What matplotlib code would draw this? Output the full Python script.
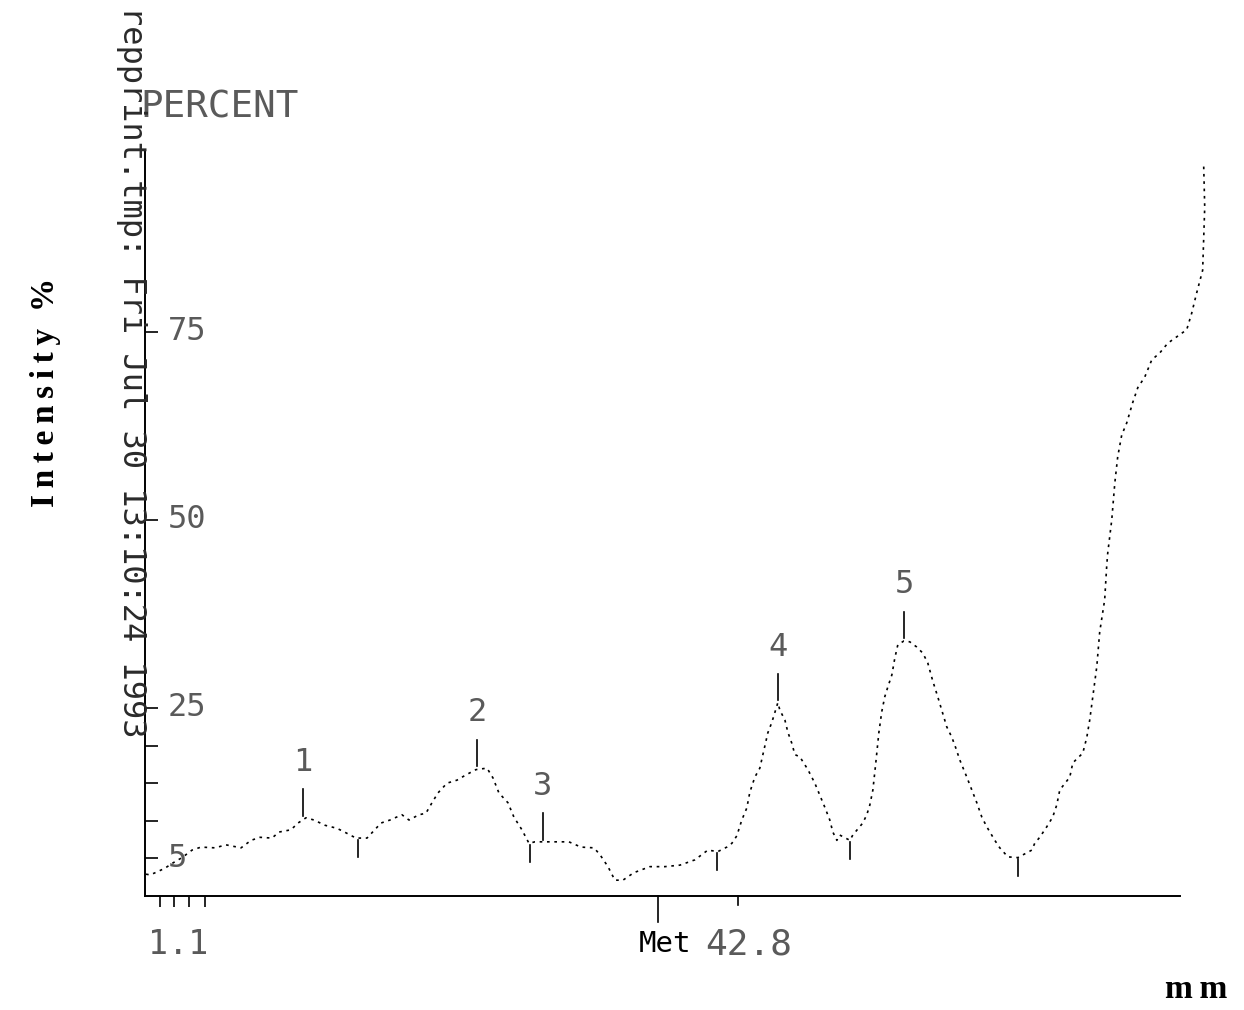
import numpy as np
import matplotlib.pyplot as plt

# densitometer scan, position in mm and intensity in percent
pos_mm = [0.07, 0.36, 0.87, 1.44, 2.02, 2.67, 3.39, 4.04, 5.05, 5.84, 6.93, 7.65, 8.30,
          9.16, 9.67, 10.53, 11.04, 11.62, 12.19, 12.99, 13.85, 14.50, 15.22, 16.02,
          17.03, 17.68, 18.54, 19.05, 19.77, 20.27, 20.71, 21.14, 21.79, 22.51, 23.16,
          23.88, 24.68, 25.11, 25.54, 26.19, 26.62, 27.20, 27.71, 28.14, 28.86, 29.80,
          30.59, 31.46, 32.40, 32.83, 33.41, 33.91, 34.49, 35.28, 36.44, 37.52, 38.60,
          39.68, 40.62, 41.34, 41.99, 42.35, 42.71, 43.07, 43.43, 43.65, 44.01, 44.37,
          44.59, 44.95, 45.24, 45.67, 45.82, 46.18, 46.39, 46.68, 46.90, 47.26, 47.84,
          48.34, 48.70, 49.06, 49.42, 49.64, 49.93, 50.14, 50.87, 51.08, 51.80, 52.09,
          52.31, 52.53, 52.74, 52.96, 53.17, 53.39, 53.61, 53.90, 54.11, 54.33, 54.76,
          55.19, 55.70, 56.13, 56.49, 56.85, 57.21, 57.50, 57.86, 58.23, 58.51, 58.80,
          59.31, 59.67, 60.03, 60.39, 60.75, 61.33, 61.69, 62.27, 62.99, 64.00, 64.21,
          64.57, 65.08, 65.51, 65.80, 66.02, 66.74, 66.96, 67.68, 67.97, 68.18, 68.40,
          68.69, 68.90, 69.26, 69.41, 69.48, 69.77, 69.99, 70.20, 70.49, 70.85, 71.28,
          71.65, 72.15, 72.66, 73.23, 73.81, 75.18, 75.54, 75.90, 76.33, 76.41, 76.48,
          76.40]
intensity = [2.9, 2.8, 3.2, 3.7, 4.4, 5.1, 6.1, 6.5, 6.4, 6.8, 6.4, 7.4, 7.8,
             7.7, 8.5, 8.8, 9.7, 10.4, 10.1, 9.4, 9.0, 8.4, 7.7, 7.7,
             9.7, 10.1, 10.8, 10.1, 10.8, 11.0, 12.4, 13.7, 15.0, 15.4, 16.1,
             16.8, 17.0, 15.7, 13.7, 12.4, 10.5, 8.8, 7.0, 7.2, 7.2, 7.2,
             7.2, 6.5, 6.4, 5.5, 3.9, 2.1, 2.1, 3.1, 3.9, 3.9, 4.1,
             4.8, 6.1, 5.9, 6.5, 7.0, 8.0, 10.1, 11.7, 13.8, 15.8, 17.0,
             18.8, 21.7, 23.1, 25.7, 24.7, 23.4, 21.8, 20.3, 18.8, 18.5, 16.8,
             15.0, 13.4, 11.8, 10.1, 8.5, 7.4, 8.1, 7.4, 8.1, 9.7, 10.8,
             12.1, 14.1, 17.7, 21.7, 24.5, 26.5, 27.8, 29.4, 31.6, 33.4, 33.9,
             33.8, 33.1, 32.3, 31.0, 28.6, 26.5, 24.7, 22.5, 21.1, 19.7, 18.1,
             15.8, 14.1, 12.4, 10.5, 9.2, 7.4, 6.4, 5.2, 5.1, 6.1, 7.0,
             7.8, 9.2, 10.5, 12.1, 14.1, 15.8, 17.7, 19.0, 21.1, 23.4, 26.5,
             30.5, 35.1, 39.4, 44.0, 45.6, 50.0, 54.9, 58.4, 61.3, 62.9, 65.6,
             67.6, 69.0, 71.3, 72.2, 73.5, 75.3, 77.5, 80.2, 83.2, 87.6, 91.6,
             97.5]

# integrated peaks
peak_labels = ["1", "2", "3", "4", "5"]
peak_mm = [11.4, 23.95, 28.7, 45.7, 54.8]
peak_int = [10.4, 17.0, 7.2, 25.7, 34.0]

# baseline drop marks
valley_mm = [15.4, 27.8, 41.3, 50.9, 63.0]
valley_int = [7.7, 7.0, 5.9, 7.4, 5.1]

y_major = [5, 25, 50, 75]
y_minor = [10, 15, 20]
x_ticks = [1.1, 2.1, 3.2, 4.3]
met_mm = 37.0
front_mm = 42.8

mono = "DejaVu Sans Mono"
serif = ["Liberation Serif", "DejaVu Serif"]
seg = "#5a5a5a"
thin = "\u2009"

fig = plt.figure(figsize=(12.44, 10.10), dpi=100)
ax = fig.add_axes([0.1166, 0.1129, 0.832, 0.7386])

ax.plot(pos_mm, intensity, color="black", lw=1.2, linestyle=(0, (1.6, 2.8)), clip_on=False)

# peak markers: short tick above each peak, number above it
for lab, px, py in zip(peak_labels, peak_mm, peak_int):
    ax.plot([px, px], [py + 0.3, py + 3.8], color="black", lw=1.2)
    ax.text(px, py + 7.4, lab, ha="center", va="center", fontsize=23,
            family=mono, color=seg)

for vx, vy in zip(valley_mm, valley_int):
    ax.plot([vx, vx], [vy - 0.2, vy - 2.5], color="black", lw=1.2)

ax.set_xlim(0, 74.7)
ax.set_ylim(0, 99.2)
for s in ["top", "right"]:
    ax.spines[s].set_visible(False)
for s in ["left", "bottom"]:
    ax.spines[s].set_linewidth(1.4)

ax.set_yticks(y_major + y_minor)
ax.set_yticklabels([])
ax.tick_params(axis="y", direction="in", length=9, width=1.2)
ax.set_xticks(x_ticks)
ax.set_xticklabels([])
ax.tick_params(axis="x", direction="out", length=8, width=1.2)

for v in y_major:
    ax.text(1.65, v, str(v), ha="left", va="center", fontsize=23,
            family=mono, color=seg)

# Met marker and front marker under the x axis
xt = ax.get_xaxis_transform()
ax.plot([met_mm, met_mm], [0, -0.035], transform=xt, color="black", lw=1.2, clip_on=False)
ax.plot([front_mm, front_mm], [0, -0.012], transform=xt, color="black", lw=1.2, clip_on=False)

ax.text(2.4, -0.065, "1.1", transform=xt, ha="center", va="center",
        fontsize=24, family=mono, color=seg)
ax.text(35.6, -0.065, "Met", transform=xt, ha="left", va="center",
        fontsize=21, family=mono, color="black")
ax.text(40.4, -0.065, "42.8", transform=xt, ha="left", va="center",
        fontsize=26, family=mono, color=seg)

fig.text(140 / 1244, 1 - 108 / 1010, "PERCENT", ha="left", va="center",
         fontsize=27, family=mono, color=seg)
fig.text(131 / 1244, 1 - 6 / 1010, "repprint.tmp: Fri Jul 30 13:10:24 1993",
         rotation=-90, ha="center", va="top", fontsize=23, family=mono, color="#2a2a2a")
fig.text(46 / 1244, 1 - 392 / 1010, thin.join("Intensity") + "  %", rotation=90,
         ha="center", va="center", fontsize=24, family=serif, fontweight="bold")
fig.text(1196 / 1244, 1 - 990 / 1010, "m" + thin + "m", ha="center", va="center",
         fontsize=24, family=serif, fontweight="bold")

fig.savefig("out.png", dpi=100)
